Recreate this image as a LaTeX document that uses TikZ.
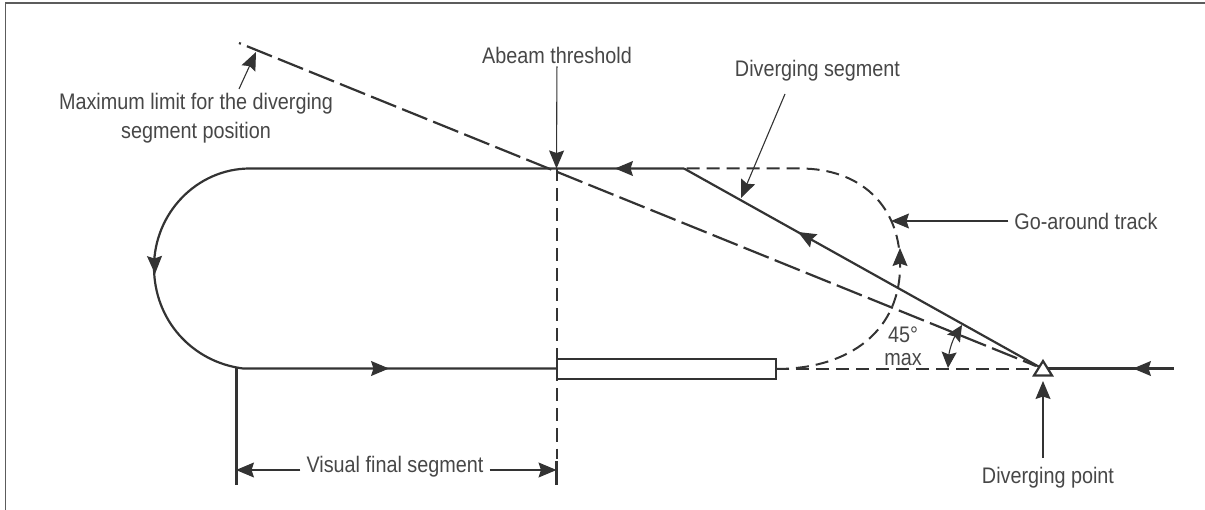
\documentclass[tikz,border=0pt]{standalone}
\usepackage{fontspec}
\setmainfont[FakeStretch=0.88]{Liberation Sans}
\usetikzlibrary{arrows.meta}
\definecolor{ink}{HTML}{333333}
\tikzset{
  track/.style={draw=ink, line width=2.2pt},
  dashtrack/.style={draw=ink, line width=2pt, dash pattern=on 13pt off 7pt},
  limitline/.style={draw=ink, line width=2.2pt, dash pattern=on 27pt off 6.5pt, dash phase=25pt},
  leader/.style={draw=ink, line width=1.1pt, -{Stealth[length=18pt,width=15pt,inset=2.5pt]}},
  flow/.style={draw=ink, line width=1.1pt, -{Stealth[length=18pt,width=15pt,inset=2.5pt]}},
  lbl/.style={text=ink!90, font=\fontsize{22.5}{28.5}\selectfont, inner sep=3pt, align=center}
}
\begin{document}
\begin{tikzpicture}[x=1pt,y=-1pt]
\useasboundingbox (0,0) rectangle (1205,510);
\draw [draw=ink!80, line width=1.2pt] (5.5,510) -- (5.5,3) -- (1205,3);
% points on the tracks
\coordinate (divpt) at (1043,369);
\coordinate (farend) at (239,43);
\coordinate (abeamtop) at (556.5,168.5);
\coordinate (splitpt) at (684,168.5);
\coordinate (boxend) at (776,369);
\coordinate (arctop) at (250,168.5);
\coordinate (arcbot) at (243,368.5);
\coordinate (trackend) at (1174,368.5);
% tracks
\draw [track] (splitpt) -- (arctop) .. controls (197,168.5) and (154,213) .. (154,267)
  .. controls (154,320) and (192,362) .. (arcbot) -- (556.5,368.5);
\draw [track] (divpt) -- (splitpt);
\draw [track] (1048,368.5) -- (trackend);
\draw [limitline] (farend) -- (1036,366);
\draw [dashtrack] (abeamtop) -- (556.5,459);
\draw [dashtrack] (boxend) -- (1033,369);
\draw [dashtrack] (boxend) .. controls (850,369) and (902,330) .. (900,262)
  .. controls (899,205) and (860,168.5) .. (800,168.5) -- (splitpt);
% runway and diverging point
\draw [draw=ink, line width=2pt, fill=white] (556.5,359) rectangle (776,379.5);
\draw [draw=ink, line width=2.2pt, fill=white, line join=miter] (1043,361) -- (1052,375.5) -- (1034,375.5) -- cycle;
% arrows along the tracks
\foreach \a/\b in {{633,168.5}/{615,168.5},{370,368.5}/{389,368.5},{154.5,255}/{155,274},{1152,368.5}/{1133,368.5},{814,241}/{798,232},{900,267}/{900,248}}{
\draw [flow] (\a) -- (\b);
}
% labels
\node [lbl] (abeam) at (557,55) {Abeam threshold};
\node [lbl] (divseg) at (817.5,71) {Diverging segment};
\node [lbl] (limit) at (196,118) {Maximum limit for the diverging\\segment position};
\node [lbl, inner xsep=6pt] (goaround) at (1086,221) {Go-around track};
\node [lbl] (divlabel) at (1048,478) {Diverging point};
\node [lbl, inner xsep=6pt] (visual) at (395,467) {Visual final segment};
\node [lbl, font=\fontsize{22.5}{23}\selectfont] (maxangle) at (903,346) {45°\\max};
\coordinate (divfoot) at (785,94);
\coordinate (divtip) at (741,198);
\coordinate (limfoot) at (239,89);
\coordinate (limtip) at (256,52);
\coordinate (pointfoot) at (1043,458);
\coordinate (pointtip) at (1043,381);
\draw [leader] (abeam) -- (abeamtop);
\draw [leader] (divfoot) -- (divtip);
\draw [leader] (limfoot) -- (limtip);
\draw [leader] (goaround) -- (891,221);
\draw [leader] (pointfoot) -- (pointtip);
% visual final segment
\coordinate (visleft) at (236,470);
\coordinate (visright) at (556.5,470);
\draw [draw=ink, line width=2.2pt] (236.5,368.5) -- (236.5,485);
\draw [draw=ink, line width=2.2pt] (556.5,461) -- (556.5,485);
\draw [leader] (visual.west |- visleft) -- (visleft);
\draw [leader] (visual.east |- visright) -- (visright);
% angle
\draw [leader, {Stealth[length=16pt,width=15pt,inset=2.5pt]}-{Stealth[length=16pt,width=15pt,inset=2.5pt]}]
  (948,368) to [bend left=14] (962,325);
\end{tikzpicture}
\end{document}
